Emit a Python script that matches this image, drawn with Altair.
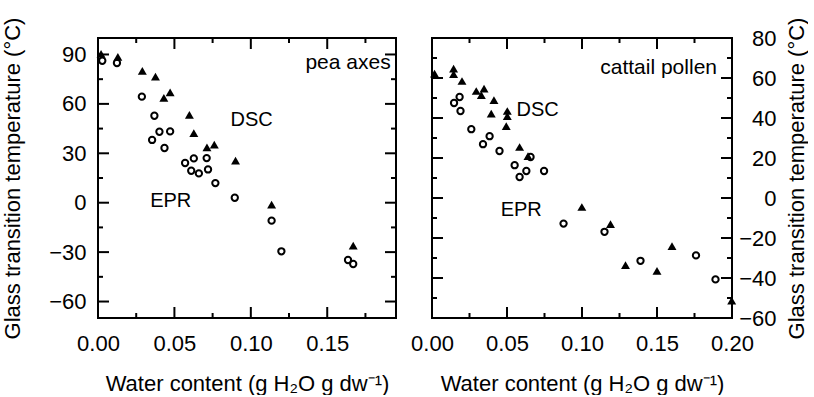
import altair as alt
import pandas as pd

# ---------------- data ----------------
pea_dsc_x = [0.002, 0.013, 0.029, 0.0376, 0.0431, 0.0472, 0.0598, 0.0627, 0.0713, 0.0761, 0.090, 0.1136, 0.167]
pea_dsc_y = [90.3, 88.6, 80.1, 76.5, 63.6, 67.0, 53.4, 42.3, 33.6, 35.2, 25.5, -1.2, -26.0]

pea_epr_x = [0.0028, 0.0124, 0.0287, 0.0369, 0.0354, 0.0402, 0.0472, 0.0435, 0.057, 0.0627, 0.0711,
             0.061, 0.066, 0.072, 0.0768, 0.0895, 0.1136, 0.120, 0.1636, 0.167]
pea_epr_y = [86.2, 84.8, 64.4, 52.8, 38.1, 43.1, 43.3, 33.2, 24.1, 26.9, 27.1,
             19.4, 17.8, 20.2, 11.9, 3.0, -10.9, -29.5, -34.8, -37.2]

cat_dsc_x = [0.0017, 0.0144, 0.0144, 0.020, 0.0295, 0.0329, 0.0347, 0.0413, 0.0395, 0.0502, 0.0502, 0.0495,
             0.0584, 0.064, 0.0999, 0.119, 0.129, 0.150, 0.160, 0.1998]
cat_dsc_y = [62.2, 64.7, 61.9, 58.5, 53.5, 51.4, 54.7, 48.9, 42.2, 43.5, 40.9, 35.9,
             25.5, 20.9, -4.5, -13.1, -33.6, -36.4, -24.1, -51.3]

cat_epr_x = [0.0184, 0.0147, 0.019, 0.0262, 0.034, 0.0384, 0.045, 0.0551, 0.0584, 0.0629, 0.0657, 0.0747,
             0.0877, 0.115, 0.139, 0.176, 0.189]
cat_epr_y = [50.5, 47.5, 43.5, 34.4, 26.9, 30.9, 23.5, 16.4, 10.5, 13.5, 20.5, 13.5,
             -12.8, -16.9, -31.4, -28.7, -40.7]

pea_x_major = [0.0, 0.05, 0.10, 0.15]
pea_x_minor = [0.025, 0.075, 0.125, 0.175]
pea_y_major = [-60, -30, 0, 30, 60, 90]
pea_y_minor = [-45, -15, 15, 45, 75]

cat_x_major = [0.0, 0.05, 0.10, 0.15, 0.20]
cat_x_minor = [0.025, 0.075, 0.125, 0.175]
cat_y_major = [-60, -40, -20, 0, 20, 40, 60, 80]
cat_y_minor = [-50, -30, -10, 10, 30, 50, 70]

pea_labels = ["pea axes"]
pea_labels_x = [0.1915]
pea_labels_y = [85.0]
pea_ann = ["DSC", "EPR"]
pea_ann_x = [0.1005, 0.0476]
pea_ann_y = [50.4, 0.9]

cat_labels = ["cattail pollen"]
cat_labels_x = [0.190]
cat_labels_y = [64.8]
cat_ann = ["DSC", "EPR"]
cat_ann_x = [0.0704, 0.0595]
cat_ann_y = [43.8, -6.2]

XTITLE = "Water content (g H\u2082O g dw\u207b\u00b9)"
YTITLE = "Glass transition temperature (\u00b0C)"

FONT = "Liberation Sans, Arial, sans-serif"
H = 280
MAJ = 11
MIN = 5
LFS = 22   # tick label font size
TFS = 22   # axis title font size


def panel(dsc_x, dsc_y, epr_x, epr_y, xdom, ydom, W, xmaj, xmin, ymaj, ymin,
          lab, lab_x, lab_y, ann, ann_x, ann_y, yorient, ylabel_pad, ylabel_align, ytitle_pad,
          ytitle_baseline):
    xs = alt.Scale(domain=xdom, nice=False, zero=False)
    ys = alt.Scale(domain=ydom, nice=False, zero=False)
    xaxis = alt.Axis(values=xmaj, format=".2f", title=XTITLE, ticks=False, domain=False, grid=False,
                     labelFont=FONT, labelFontSize=LFS, labelColor="black", labelPadding=15,
                     titleFont=FONT, titleFontSize=TFS, titleFontWeight="normal", titleColor="black",
                     titlePadding=19, labelFlush=False, labelOverlap=False)
    yaxis = alt.Axis(values=ymaj, format="d", title=YTITLE, ticks=False, domain=False, grid=False,
                     orient=yorient, labelFont=FONT, labelFontSize=LFS, labelColor="black",
                     labelPadding=ylabel_pad, labelAlign=ylabel_align,
                     titleFont=FONT, titleFontSize=TFS, titleFontWeight="normal", titleColor="black",
                     titlePadding=ytitle_pad, titleAngle=270, titleBaseline=ytitle_baseline,
                     labelFlush=False, labelOverlap=False)

    def X(f):
        return alt.X(f, scale=xs, axis=xaxis, title=XTITLE)

    def Y(f):
        return alt.Y(f, scale=ys, axis=yaxis, title=YTITLE)

    dsc = pd.DataFrame({"x": dsc_x, "y": dsc_y})
    epr = pd.DataFrame({"x": epr_x, "y": epr_y})

    tri = alt.Chart(dsc).mark_point(shape="triangle-up", filled=True, color="black", size=80, opacity=1).encode(
        x=X("x:Q"), y=Y("y:Q"))
    circ = alt.Chart(epr).mark_point(shape="circle", filled=False, color="black", size=40, strokeWidth=2,
                                     opacity=1).encode(x=X("x:Q"), y=Y("y:Q"))

    layers = [circ, tri]

    def yticks(vals, L):
        d = pd.DataFrame({"v": vals})
        left = alt.Chart(d).mark_rule(color="black", strokeWidth=2).encode(
            y=Y("v:Q"), x=alt.value(0), x2=alt.value(L))
        right = alt.Chart(d).mark_rule(color="black", strokeWidth=2).encode(
            y=Y("v:Q"), x=alt.value(W - L), x2=alt.value(W))
        return [left, right]

    def xticks(vals, L):
        d = pd.DataFrame({"v": vals})
        bot = alt.Chart(d).mark_rule(color="black", strokeWidth=2).encode(
            x=X("v:Q"), y=alt.value(H - L), y2=alt.value(H))
        top = alt.Chart(d).mark_rule(color="black", strokeWidth=2).encode(
            x=X("v:Q"), y=alt.value(0), y2=alt.value(L))
        return [bot, top]

    layers += yticks(ymaj, MAJ) + yticks(ymin, MIN) + xticks(xmaj, MAJ) + xticks(xmin, MIN)

    labdf = pd.DataFrame({"x": lab_x, "y": lab_y, "t": lab})
    anndf = pd.DataFrame({"x": ann_x, "y": ann_y, "t": ann})
    t1 = alt.Chart(labdf).mark_text(align="right", baseline="middle", font=FONT, fontSize=21,
                                    color="black").encode(x=X("x:Q"), y=Y("y:Q"), text="t:N")
    t2 = alt.Chart(anndf).mark_text(align="center", baseline="middle", font=FONT, fontSize=20,
                                    color="black").encode(x=X("x:Q"), y=Y("y:Q"), text="t:N")
    layers += [t1, t2]

    return alt.layer(*layers).properties(width=W, height=H)


left = panel(pea_dsc_x, pea_dsc_y, pea_epr_x, pea_epr_y, [0, 0.195], [-70, 100], 298,
             pea_x_major, pea_x_minor, pea_y_major, pea_y_minor,
             pea_labels, pea_labels_x, pea_labels_y, pea_ann, pea_ann_x, pea_ann_y,
             "left", 12, "right", 24, "bottom")
right = panel(cat_dsc_x, cat_dsc_y, cat_epr_x, cat_epr_y, [0, 0.20], [-60, 80], 300,
              cat_x_major, cat_x_minor, cat_y_major, cat_y_minor,
              cat_labels, cat_labels_x, cat_labels_y, cat_ann, cat_ann_x, cat_ann_y,
              "right", 44, "right", 10, "top")

chart = alt.hconcat(left, right, spacing=36, bounds="flush").properties(
    padding={"left": 0, "top": 16, "right": 0, "bottom": 0},
    background="white",
).configure_view(stroke="black", strokeWidth=2).configure_axis(labelFontWeight="normal")

chart.save("out.html", embed_options={"renderer": "svg", "actions": False})
